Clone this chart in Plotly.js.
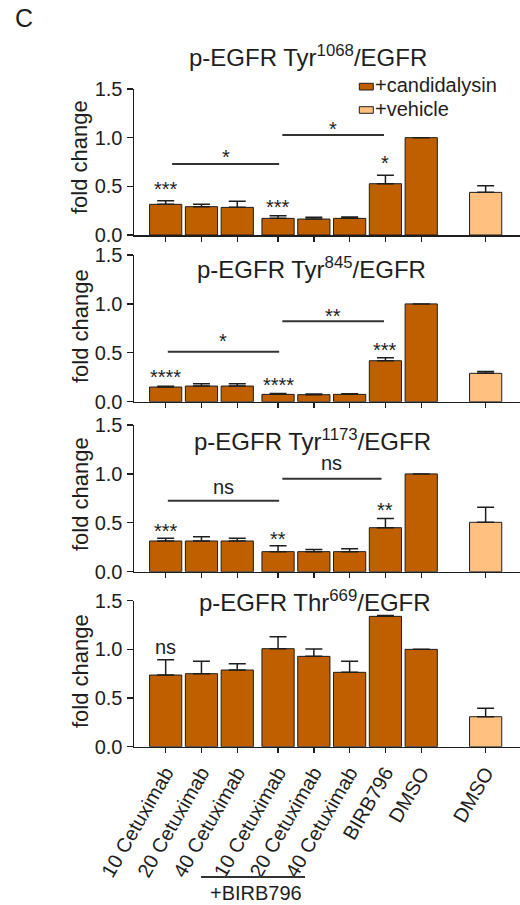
<!DOCTYPE html>
<html><head><meta charset="utf-8">
<script src="https://cdn.plot.ly/plotly-3.0.1.min.js"></script>
<style>html,body{margin:0;padding:0;background:#fff}#chart{width:520px;height:905px}</style>
</head><body><div id="chart"></div>
<script>
// ---------- data ----------
const categories = ['10 Cetuximab','20 Cetuximab','40 Cetuximab','10 Cetuximab','20 Cetuximab','40 Cetuximab','BIRB796','DMSO','DMSO'];
const treatment = ['candidalysin','candidalysin','candidalysin','candidalysin','candidalysin','candidalysin','candidalysin','candidalysin','vehicle'];
const legendLabels = ['+candidalysin','+vehicle'];
const panelTitles = ['p-EGFR Tyr<sup>1068</sup>/EGFR','p-EGFR Tyr<sup>845</sup>/EGFR','p-EGFR Tyr<sup>1173</sup>/EGFR','p-EGFR Thr<sup>669</sup>/EGFR'];

const tyr1068Mean = [0.315,0.291,0.284,0.171,0.164,0.171,0.527,1.0,0.438];
const tyr1068Sem  = [0.038,0.024,0.062,0.028,0.018,0.014,0.086,null,0.069];
const tyr845Mean  = [0.150,0.160,0.160,0.075,0.072,0.075,0.419,1.0,0.290];
const tyr845Sem   = [0.007,0.024,0.024,0.010,0.006,0.007,0.031,null,0.020];
const tyr1173Mean = [0.314,0.314,0.314,0.205,0.205,0.205,0.450,1.0,0.505];
const tyr1173Sem  = [0.027,0.044,0.027,0.061,0.023,0.030,0.095,null,0.153];
const thr669Mean  = [0.736,0.750,0.788,1.007,0.928,0.764,1.339,1.0,0.308];
const thr669Sem   = [0.158,0.127,0.065,0.123,0.075,0.113,0.010,null,0.086];

// significance marks over bars (label, height where drawn)
const tyr1068BarSig  = ['***','','','***','','','*','',''];
const tyr1068BarSigY = [0.521,null,null,0.332,null,null,0.788,null,null];
const tyr845BarSig   = ['****','','','****','','','***','',''];
const tyr845BarSigY  = [0.297,null,null,0.215,null,null,0.580,null,null];
const tyr1173BarSig  = ['***','','','**','','','**','',''];
const tyr1173BarSigY = [0.460,null,null,0.385,null,null,0.682,null,null];
const thr669BarSig   = ['ns','','','','','','','',''];
const thr669BarSigY  = [1.010,null,null,null,null,null,null,null,null];

// comparison brackets: [from bar, to bar], line height, label, label height
const bracketFrom = [0,3];
const bracketTo   = [3,6];
const tyr1068BracketY = [0.729,1.027], tyr1068BracketLbl = ['*','*'],   tyr1068BracketLblY = [0.846,1.140];
const tyr845BracketY  = [0.511,0.822], tyr845BracketLbl  = ['*','**'],  tyr845BracketLblY  = [0.665,0.927];
const tyr1173BracketY = [0.726,0.950], tyr1173BracketLbl = ['ns','ns'], tyr1173BracketLblY = [0.852,1.091];

const yTickVals = [0,0.5,1.0,1.5];
const yTickText = ['0.0','0.5','1.0','1.5'];
const groupLabel = '+BIRB796';

// ---------- layout helpers ----------
const FONT = 'Liberation Sans, Arial, Helvetica, sans-serif';
const INK = '#1e1e1e';
const DARK = '#C05F00', LIGHT = '#FFC080';
const L = 134, T = 89, W = 386, H = 658;           // plot area in px
const px = v => (v - L) / W;
const py = v => (T + H - v) / H;
const panelPx = [[89,235],[255,401.7],[425,571.7],[600.7,746.7]];
const titlePx = [[308,56],[311,268],[312,440],[315,601]];
const ytitlePx = [157,326,494,671];

// bar positions: small gap after bar 3, big gap before vehicle
const pos = categories.map((c,i) => i + (i >= 3 ? 0.14 : 0) + (i >= 8 ? 0.8 : 0));

const panels = [
  {mean:tyr1068Mean, sem:tyr1068Sem, sig:tyr1068BarSig, sigY:tyr1068BarSigY, bY:tyr1068BracketY, bL:tyr1068BracketLbl, bLY:tyr1068BracketLblY},
  {mean:tyr845Mean,  sem:tyr845Sem,  sig:tyr845BarSig,  sigY:tyr845BarSigY,  bY:tyr845BracketY,  bL:tyr845BracketLbl,  bLY:tyr845BracketLblY},
  {mean:tyr1173Mean, sem:tyr1173Sem, sig:tyr1173BarSig, sigY:tyr1173BarSigY, bY:tyr1173BracketY, bL:tyr1173BracketLbl, bLY:tyr1173BracketLblY},
  {mean:thr669Mean,  sem:thr669Sem,  sig:thr669BarSig,  sigY:thr669BarSigY,  bY:[], bL:[], bLY:[]}
];

const traces = [], shapes = [], annotations = [];
const layout = {
  width:520, height:905, margin:{l:L, r:0, t:T, b:905 - T - H, pad:0},
  paper_bgcolor:'#fff', plot_bgcolor:'rgba(0,0,0,0)', showlegend:false, bargap:0,
  font:{family:FONT, size:20, color:INK}
};

panels.forEach((p, k) => {
  const n = k + 1, xa = 'x' + (n === 1 ? '' : n), ya = 'y' + (n === 1 ? '' : n);
  const xKey = 'xaxis' + (n === 1 ? '' : n), yKey = 'yaxis' + (n === 1 ? '' : n);
  ['candidalysin','vehicle'].forEach(g => {
    const idx = treatment.map((t,i) => t === g ? i : -1).filter(i => i >= 0);
    traces.push({
      type:'bar', xaxis:xa, yaxis:ya,
      x: idx.map(i => pos[i]), y: idx.map(i => p.mean[i]),
      width: 0.9, hoverinfo:'skip',
      marker:{color: g === 'candidalysin' ? DARK : LIGHT, line:{color:INK, width:1}},
      error_y:{type:'data', symmetric:false, array: idx.map(i => p.sem[i]), arrayminus: idx.map(() => 0),
               color:INK, thickness:1.5, width:8.5}
    });
  });
  const [top, bot] = panelPx[k];
  layout[xKey] = {
    domain:[0,1], anchor:ya, range:[-0.885, 9.9], showgrid:false, zeroline:false,
    showline:true, linecolor:INK, linewidth:1.5, ticks:'outside', ticklen:5, tickwidth:1.3, tickcolor:INK,
    tickvals: pos, ticktext: categories, showticklabels: n === 4, tickangle:-60,
    tickfont:{family:FONT, size:20, color:INK}, fixedrange:true
  };
  layout[yKey] = {
    domain:[py(bot), py(top)], anchor:xa, range:[0,1.5], showgrid:false, zeroline:false,
    showline:true, linecolor:INK, linewidth:1.5, ticks:'outside', ticklen:6, tickwidth:1.3, tickcolor:INK,
    tickvals:yTickVals, ticktext:yTickText, tickfont:{family:FONT, size:20, color:INK}, fixedrange:true
  };
  // title
  annotations.push({text:panelTitles[k], xref:'paper', yref:'paper', x:px(titlePx[k][0]), y:py(titlePx[k][1]),
    xanchor:'center', yanchor:'middle', showarrow:false, font:{family:FONT, size:24, color:INK}});
  // y title
  annotations.push({text:'fold change', xref:'paper', yref:'paper', x:px(80), y:py(ytitlePx[k]), textangle:-90,
    xanchor:'center', yanchor:'middle', showarrow:false, font:{family:FONT, size:22, color:INK}});
  // bar significance
  p.sig.forEach((s,i) => {
    if (!s) return;
    annotations.push({text:s, xref:xa, yref:ya, x:pos[i], y:p.sigY[i], xanchor:'center', yanchor:'middle',
      yshift: s === 'ns' ? 1.7 : -4.6, showarrow:false, font:{family:FONT, size:20, color:INK}});
  });
  // brackets
  p.bY.forEach((yv, j) => {
    const x0 = pos[bracketFrom[j]] + (j === 0 ? (k === 0 ? 0.18 : 0.06) : 0.12);
    const x1 = pos[bracketTo[j]] + (j === 0 ? 0.03 : (k === 2 ? -0.11 : -0.04));
    shapes.push({type:'line', xref:xa, yref:ya, x0:x0, x1:x1, y0:yv, y1:yv, line:{color:'#333', width:2}});
    const s = p.bL[j];
    annotations.push({text:s, xref:xa, yref:ya, x:(x0 + x1) / 2, y:p.bLY[j], xanchor:'center', yanchor:'middle',
      yshift: s === 'ns' ? 1.7 : -4.6, showarrow:false, font:{family:FONT, size:20, color:INK}});
  });
});

// legend (top right of first panel)
[[DARK, 83.3, 90, 85.0],[LIGHT, 106.7, 113.3, 108.5]].forEach((r, j) => {
  shapes.push({type:'rect', xref:'paper', yref:'paper', x0:px(359.3), x1:px(373.3), y0:py(r[2]), y1:py(r[1]),
    fillcolor:r[0], line:{color:INK, width:1}});
  annotations.push({text:legendLabels[j], xref:'paper', yref:'paper', x:px(374), y:py(r[3]), xanchor:'left', yanchor:'middle',
    showarrow:false, borderpad:0, font:{family:FONT, size:20, color:INK}});
});

// +BIRB796 group marker
shapes.push({type:'line', xref:'paper', yref:'paper', x0:px(201), x1:px(305), y0:py(877), y1:py(877), line:{color:'#333', width:2}});
annotations.push({text:groupLabel, xref:'paper', yref:'paper', x:px(256), y:py(893), xanchor:'center', yanchor:'middle',
  showarrow:false, font:{family:FONT, size:20, color:INK}});

// panel letter
annotations.push({text:'C', xref:'paper', yref:'paper', x:px(13), y:py(18.5), xanchor:'left', yanchor:'middle',
  showarrow:false, font:{family:FONT, size:25, color:INK}});

layout.shapes = shapes;
layout.annotations = annotations;
Plotly.newPlot('chart', traces, layout, {displayModeBar:false, staticPlot:true});
</script>
</body></html>
